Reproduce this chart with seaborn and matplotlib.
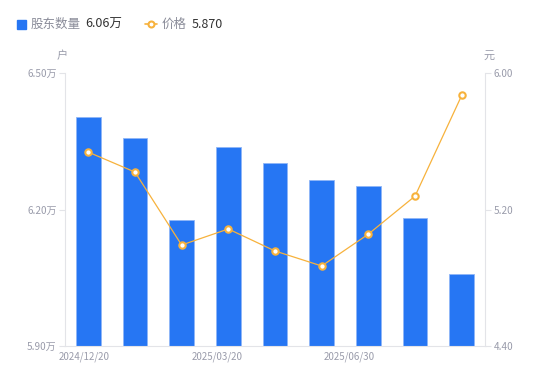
import numpy as np
import pandas as pd
import matplotlib
matplotlib.use("Agg")
import matplotlib.pyplot as plt
import seaborn as sns
from matplotlib.lines import Line2D
from matplotlib.patches import Rectangle

# data
dates = ["2024/12/20", "2025/01/20", "2025/02/20", "2025/03/20", "2025/04/20",
         "2025/05/20", "2025/06/30", "2025/07/20", "2025/08/20"]
holders = [6.403, 6.357, 6.177, 6.337, 6.302, 6.265, 6.252, 6.181, 6.058]  # 万户
price = [5.537, 5.420, 4.992, 5.086, 4.957, 4.869, 5.056, 5.279, 5.870]
tick_labels = ["2024/12/20", "2025/03/20", "2025/06/30"]
tick_pos = [-0.09, 2.76, 5.60]

df = pd.DataFrame({"date": dates, "holders": holders, "price": price})

sns.set_style("white")
plt.rcParams["font.family"] = ["Noto Sans CJK SC", "DejaVu Sans"]

blue = "#2676f3"
orange = "#f7b23c"
grey = "#9a9cab"
spine = "#e3e4e8"

fig = plt.figure(figsize=(5.5, 3.81), dpi=100)
ax = fig.add_axes([0.118, 0.092, 0.764, 0.716])

sns.barplot(data=df, x="date", y="holders", color=blue, width=0.53,
            saturation=1, ax=ax, edgecolor="#8fb6f7", linewidth=0.6)
ax.set_ylim(5.90, 6.50)
ax.set_yticks([5.90, 6.20, 6.50])
ax.set_yticklabels(["5.90万", "6.20万", "6.50万"])
ax.set_xlim(-0.5, len(dates) - 0.5)
ax.set_xticks(tick_pos)
ax.set_xticklabels(tick_labels)
ax.set_xlabel("")
ax.set_ylabel("")

# price line on the right axis
ax2 = ax.twinx()
sns.lineplot(x=np.arange(len(price)), y=price, ax=ax2, color=orange, linewidth=0.9,
             marker="o", markersize=4.6, markerfacecolor="white",
             markeredgecolor=orange, markeredgewidth=1.5)
ax2.set_ylim(4.40, 6.00)
ax2.set_yticks([4.40, 5.20, 6.00])
ax2.set_yticklabels(["4.40", "5.20", "6.00"])
ax2.set_ylabel("")

for a in (ax, ax2):
    for s in a.spines.values():
        s.set_visible(False)
    a.tick_params(axis="both", colors=grey, labelsize=7.2, length=4, width=0.8,
                  labelcolor=grey, color=spine, pad=2)
ax.spines["left"].set_visible(True)
ax.spines["left"].set_color(spine)
ax.spines["bottom"].set_visible(True)
ax.spines["bottom"].set_color(spine)
ax2.spines["right"].set_visible(True)
ax2.spines["right"].set_color(spine)
ax.tick_params(axis="x", length=0, pad=4, labelsize=7)

# unit labels
fig.text(0.113, 0.845, "户", color=grey, fontsize=8, ha="center")
fig.text(0.889, 0.845, "元", color=grey, fontsize=8, ha="center")

# legend
fig.patches.append(Rectangle((0.031, 0.923), 0.016, 0.025, transform=fig.transFigure,
                             color=blue, figure=fig))
fig.text(0.056, 0.936, "股东数量", color="#8a8c99", fontsize=9, va="center")
fig.text(0.155, 0.936, "6.06万", color="#333333", fontsize=9, va="center")
fig.lines.append(Line2D([0.264, 0.285], [0.936, 0.936], transform=fig.transFigure,
                        color=orange, linewidth=1.2, zorder=1))
fig.lines.append(Line2D([0.2745], [0.936], transform=fig.transFigure,
                        linestyle="none", marker="o", markersize=4.3,
                        markerfacecolor="white", markeredgecolor=orange,
                        markeredgewidth=1.5, zorder=2))
fig.text(0.294, 0.936, "价格", color="#8a8c99", fontsize=9, va="center")
fig.text(0.349, 0.936, "5.870", color="#333333", fontsize=9, va="center")

fig.savefig("out.png", dpi=100)
